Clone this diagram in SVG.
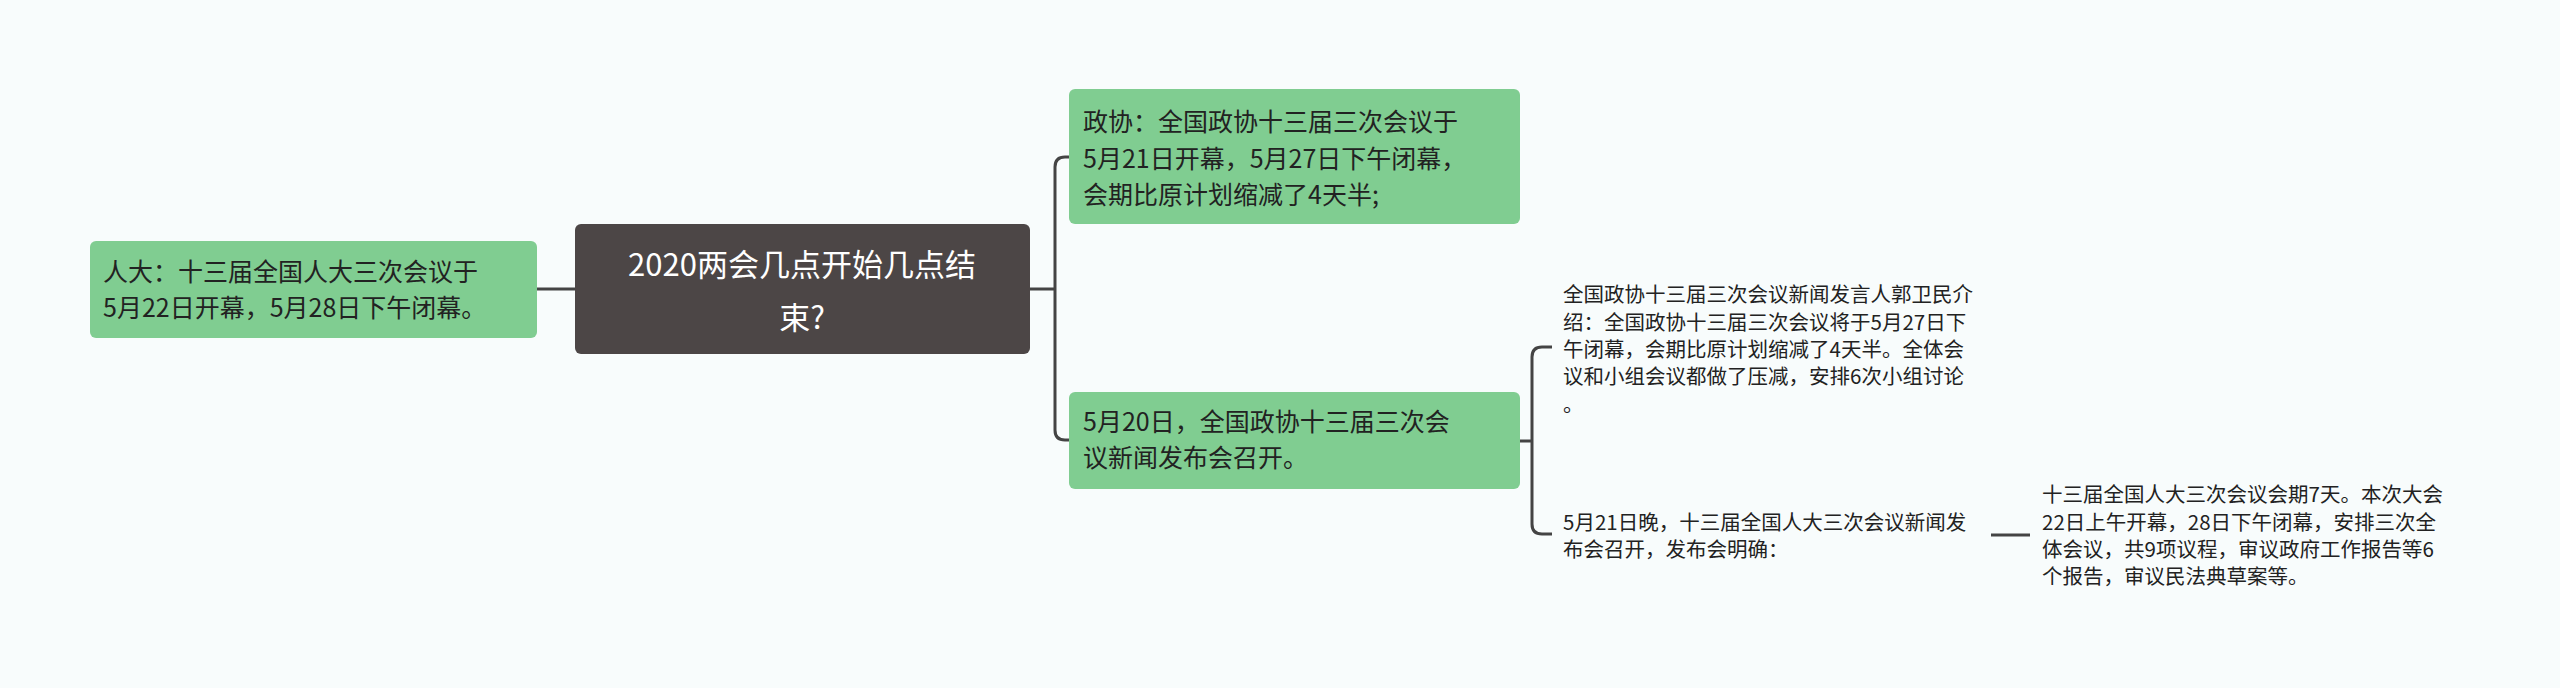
<svg xmlns="http://www.w3.org/2000/svg" width="2560" height="688" viewBox="0 0 2560 688">
<style>
.g{fill:#80cd91;}
.t{font-family:"Noto Sans CJK SC","Noto Sans",sans-serif;fill:#222;font-size:25px;}
.s{font-family:"Noto Sans CJK SC","Noto Sans",sans-serif;fill:#222;font-size:20.5px;}
.c{font-family:"Noto Sans CJK SC","Noto Sans",sans-serif;fill:#fff;font-size:31px;}
.l{fill:none;stroke:#444;stroke-width:3;}
</style>
<rect width="2560" height="688" fill="#f8fcfc"/>
<g id="connectors">
<path class="l" d="M537 289H578"/>
<path class="l" d="M1030 289H1055M1073 157H1065Q1055 157 1055 167V430Q1055 440 1065 440H1073"/>
<path class="l" d="M1520 441H1532M1552 347H1542Q1532 347 1532 357V524Q1532 534 1542 534H1552"/>
<path class="l" d="M1991 535H2030"/>
</g>
<g id="root">
<rect x="575" y="224" width="455" height="130" rx="6" fill="#4c4646"/>
<text class="c" x="802" y="276" text-anchor="middle">2020两会几点开始几点结</text>
<text class="c" x="802" y="329" text-anchor="middle">束?</text>
</g>
<g id="renda">
<rect class="g" x="90" y="241" width="447" height="97" rx="6"/>
<text class="t" x="103" y="281">人大：十三届全国人大三次会议于</text>
<text class="t" x="103" y="317">5月22日开幕，5月28日下午闭幕。</text>
</g>
<g id="zhengxie">
<rect class="g" x="1069" y="89" width="451" height="135" rx="6"/>
<text class="t" x="1083" y="131">政协：全国政协十三届三次会议于</text>
<text class="t" x="1083" y="168">5月21日开幕，5月27日下午闭幕，</text>
<text class="t" x="1083" y="204">会期比原计划缩减了4天半;</text>
</g>
<g id="may20">
<rect class="g" x="1069" y="392" width="451" height="97" rx="6"/>
<text class="t" x="1083" y="431">5月20日，全国政协十三届三次会</text>
<text class="t" x="1083" y="467">议新闻发布会召开。</text>
</g>
<g id="guo">
<text class="s" x="1563" y="302">全国政协十三届三次会议新闻发言人郭卫民介</text>
<text class="s" x="1563" y="330">绍：全国政协十三届三次会议将于5月27日下</text>
<text class="s" x="1563" y="357">午闭幕，会期比原计划缩减了4天半。全体会</text>
<text class="s" x="1563" y="384">议和小组会议都做了压减，安排6次小组讨论</text>
<text class="s" x="1563" y="412">。</text>
</g>
<g id="may21">
<text class="s" x="1563" y="530">5月21日晚，十三届全国人大三次会议新闻发</text>
<text class="s" x="1563" y="557">布会召开，发布会明确：</text>
</g>
<g id="detail">
<text class="s" x="2042" y="502">十三届全国人大三次会议会期7天。本次大会</text>
<text class="s" x="2042" y="530">22日上午开幕，28日下午闭幕，安排三次全</text>
<text class="s" x="2042" y="557">体会议，共9项议程，审议政府工作报告等6</text>
<text class="s" x="2042" y="584">个报告，审议民法典草案等。</text>
</g>
</svg>
